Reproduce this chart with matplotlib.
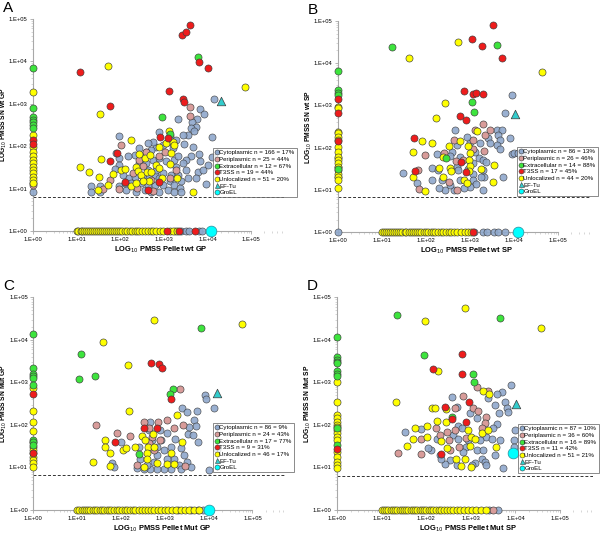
import numpy as np
import matplotlib
matplotlib.use('Agg')
from matplotlib import pyplot as plt
from matplotlib.lines import Line2D
from matplotlib.ticker import LogLocator, FuncFormatter, NullFormatter

plt.rcParams['font.family'] = ['Liberation Sans', 'DejaVu Sans']

# values are log10 PMSS (pellet, SN); *_COL = SN values with pellet 0,
# *_BASE = pellet values with SN 0 (drawn on the 1.E+00 lines)

# ---------------- A : wt GP ----------------
A_CYTO = [(4.14, 3.12), (3.84, 2.88), (3.93, 2.76), (3.76, 2.65), (3.65, 2.57), (3.74, 2.46), (3.32, 2.64),
          (3.63, 2.43), (3.70, 2.36), (3.55, 2.27), (3.44, 2.27), (4.11, 2.21), (2.90, 2.33), (3.13, 2.23),
          (3.28, 2.15), (3.47, 2.05), (3.66, 1.97), (3.63, 1.76), (3.51, 1.68), (3.21, 1.95), (3.09, 2.11),
          (2.98, 2.03), (2.82, 1.99), (2.75, 2.09), (2.63, 2.07), (2.71, 1.91), (2.60, 1.87), (2.44, 1.95),
          (2.33, 1.80), (2.18, 1.76), (1.97, 1.72), (1.98, 1.56), (1.87, 1.46), (2.06, 1.32), (2.21, 1.24),
          (2.33, 1.28), (2.52, 1.28), (2.67, 1.24), (2.79, 1.32), (2.90, 1.24), (2.98, 1.09), (3.13, 1.17),
          (3.24, 1.09), (3.36, 1.01), (3.40, 1.17), (3.55, 1.24), (3.51, 1.44), (3.44, 1.60), (3.28, 1.52),
          (3.24, 1.68), (3.05, 1.64), (3.32, 1.76), (3.78, 1.40), (3.74, 1.24), (3.97, 1.10), (3.82, 1.64),
          (1.34, 1.05), (1.34, 0.93), (1.54, 1.05), (1.54, 0.93), (1.98, 1.05), (2.14, 0.97), (2.37, 0.93),
          (2.56, 0.97), (2.71, 0.93), (2.90, 0.93), (3.09, 0.97), (3.24, 0.93), (3.40, 0.93), (2.63, 1.09),
          (2.48, 1.13), (2.25, 1.13), (2.10, 1.13), (2.79, 1.09), (2.44, 1.60), (2.60, 1.60), (2.75, 1.68),
          (2.90, 1.72), (2.63, 1.44), (2.82, 1.44), (2.98, 1.36), (3.17, 1.32), (3.32, 1.31), (3.80, 1.82),
          (4.01, 1.56), (4.10, 1.75), (3.90, 1.45), (1.97, 2.25), (1.90, 1.85)]
A_CYTO_COL = [0.93]
A_CYTO_BASE = [3.25, 3.40, 3.50, 3.58, 3.80, 3.88]
A_PERI = [(3.60, 2.92), (3.60, 2.72), (2.02, 2.02), (1.76, 1.20), (1.60, 0.98), (1.97, 0.98), (2.76, 0.94),
          (2.71, 1.20), (2.89, 1.76), (2.44, 1.68), (2.52, 1.54), (2.29, 1.36), (3.13, 1.24), (3.02, 1.87),
          (2.58, 1.86), (3.28, 1.45), (2.38, 1.02)]
A_PERI_COL = [1.14, 1.09]
A_PERI_BASE = []
A_EXTRA = [(3.79, 4.10), (2.96, 2.68), (3.15, 2.28)]
A_EXTRA_COL = [3.84, 2.91, 2.68, 2.62, 2.56, 2.50, 2.43]
A_EXTRA_BASE = []
A_T3SS = [(3.59, 4.85), (3.42, 4.63), (3.51, 4.69), (3.80, 3.98), (4.01, 3.84), (1.08, 3.74), (3.11, 3.31),
          (3.44, 3.11), (3.47, 3.04), (1.77, 2.95), (2.92, 2.22), (3.09, 2.20), (1.92, 1.83), (1.76, 1.64),
          (2.12, 1.16), (2.63, 0.96), (2.89, 1.15)]
A_T3SS_COL = [2.15, 2.05]
A_T3SS_BASE = [3.07, 3.35, 3.72]
A_UNLOC = [(1.72, 3.88), (1.53, 2.76), (4.85, 3.39), (2.24, 2.15), (1.08, 1.52), (1.28, 1.39), (1.51, 1.28),
           (1.56, 1.69), (1.72, 1.09), (1.83, 1.35), (2.02, 1.44), (2.10, 1.46), (2.25, 1.05), (2.37, 1.52),
           (2.44, 1.81), (2.56, 1.72), (2.69, 1.80), (2.40, 1.42), (2.48, 1.32), (2.61, 1.39), (2.66, 1.18),
           (2.52, 1.18), (2.71, 1.39), (2.82, 1.56), (2.89, 1.99), (2.90, 1.48), (2.96, 1.26), (3.05, 2.07),
           (3.11, 2.37), (3.21, 2.11), (3.24, 2.03), (3.17, 1.83), (3.13, 1.57), (3.30, 1.24), (3.66, 0.93),
           (2.35, 1.13), (1.49, 0.97)]
A_UNLOC_COL = [3.28, 2.27, 1.99, 1.87, 1.76, 1.68, 1.60, 1.52, 1.44, 1.36, 1.28, 1.20, 1.13]
A_UNLOC_BASE = [1.00, 1.04, 1.09, 1.13, 1.18, 1.22, 1.27, 1.31, 1.36, 1.40, 1.45, 1.49, 1.54, 1.58, 1.63,
                1.67, 1.72, 1.76, 1.81, 1.86, 1.90, 1.95, 2.00, 2.05, 2.10, 2.16, 2.22, 2.27, 2.33, 2.38,
                2.44, 2.50, 2.57, 2.63, 2.70, 2.76, 2.83, 2.92, 2.98, 3.15, 3.22, 3.30]
A_EFTU = (4.31, 3.07)
A_GROEL = (4.08, 0.0)

# ---------------- B : wt SP ----------------
B_CYTO = [(3.95, 3.24), (3.80, 2.83), (2.67, 2.43), (3.61, 2.42), (3.73, 2.42), (3.65, 2.30), (3.69, 2.18),
          (3.61, 2.06), (3.69, 1.98), (3.92, 2.22), (3.95, 1.85), (4.01, 1.87), (3.42, 2.22), (3.46, 2.10),
          (3.23, 2.10), (3.01, 2.14), (2.93, 2.26), (2.70, 2.06), (2.59, 1.91), (2.25, 1.85), (2.55, 1.80),
          (2.78, 1.79), (3.12, 1.91), (3.20, 1.75), (3.31, 1.71), (3.37, 1.67), (3.08, 1.63), (2.70, 1.55),
          (2.14, 1.51), (2.27, 1.47), (2.74, 1.47), (3.08, 1.39), (3.31, 1.47), (3.33, 1.31), (3.08, 1.24),
          (3.14, 1.14), (3.01, 1.08), (2.86, 1.04), (2.63, 1.00), (2.44, 1.00), (2.29, 1.04), (2.14, 1.24),
          (2.36, 1.24), (1.49, 1.41), (1.80, 1.16), (3.30, 1.00), (3.75, 1.31), (2.55, 1.12), (2.78, 1.24),
          (4.09, 1.87), (4.18, 1.87), (3.25, 1.30), (2.95, 1.50)]
B_CYTO_COL = [0.0, 1.75, 1.55, 1.30]
B_CYTO_BASE = [3.10, 3.30, 3.40, 3.55, 3.65, 3.80]
B_PERI = [(3.29, 2.57), (3.11, 2.42), (3.35, 2.30), (2.65, 2.18), (1.98, 1.83), (3.08, 1.98), (3.33, 1.92),
          (2.69, 1.69), (2.84, 1.71), (1.83, 1.47), (2.52, 1.20), (2.70, 1.00), (1.85, 1.02), (3.08, 2.18),
          (3.45, 2.42), (2.42, 1.88)]
B_PERI_COL = []
B_PERI_BASE = []
B_EXTRA = [(1.24, 4.37), (3.61, 4.43), (3.05, 3.09), (3.10, 2.85), (2.45, 1.75)]
B_EXTRA_COL = [3.82, 3.36, 3.30, 3.25, 1.50]
B_EXTRA_BASE = []
B_T3SS = [(3.52, 4.91), (3.05, 4.56), (3.27, 4.40), (3.73, 4.13), (2.86, 3.35), (3.07, 3.27), (3.14, 3.30),
          (3.31, 3.27), (2.77, 2.75), (2.92, 2.65), (1.73, 2.24), (1.76, 1.46), (2.80, 1.67), (2.91, 1.43)]
B_T3SS_COL = [3.15, 2.83, 2.16]
B_T3SS_BASE = [3.08]
B_UNLOC = [(2.73, 4.50), (1.61, 4.13), (4.64, 3.80), (2.44, 3.06), (2.23, 2.70), (1.91, 2.16), (2.14, 2.12),
           (1.70, 1.91), (2.52, 2.04), (2.78, 2.16), (3.17, 2.40), (2.95, 2.04), (3.01, 1.88), (2.99, 1.72),
           (2.39, 1.77), (2.31, 1.51), (2.55, 1.53), (2.57, 1.46), (3.01, 1.57), (2.99, 1.46), (3.25, 1.49),
           (3.54, 1.59), (3.52, 1.18), (2.39, 1.31), (1.70, 1.31), (1.98, 0.98), (2.86, 1.24), (2.93, 1.17)]
B_UNLOC_COL = [2.97, 2.93, 2.38, 2.34, 2.26, 2.18, 2.02, 1.91, 1.79, 1.71, 1.63, 1.55, 1.47, 1.39, 1.31,
               1.24, 1.04]
B_UNLOC_BASE = [1.00, 1.05, 1.09, 1.14, 1.19, 1.23, 1.28, 1.33, 1.37, 1.42, 1.47, 1.52, 1.56, 1.61, 1.66,
                1.71, 1.75, 1.80, 1.85, 1.90, 1.95, 2.00, 2.06, 2.11, 2.17, 2.22, 2.28, 2.34, 2.40, 2.46,
                2.52, 2.58, 2.65, 2.72, 2.80, 2.88, 2.96, 3.02]
B_EFTU = (4.03, 2.80)
B_GROEL = (4.09, 0.0)

# ---------------- C : Mut GP ----------------
C_CYTO = [(3.91, 2.70), (3.95, 2.60), (4.12, 2.39), (3.40, 2.41), (3.51, 2.31), (3.74, 2.33), (3.66, 2.12),
          (3.70, 1.97), (3.53, 1.78), (3.65, 1.76), (2.66, 2.06), (2.63, 1.88), (2.90, 1.88), (3.05, 1.80),
          (3.24, 1.66), (3.36, 1.45), (2.92, 1.65), (2.82, 1.49), (2.98, 1.41), (3.13, 1.49), (3.44, 1.29),
          (2.01, 1.61), (2.40, 1.47), (2.71, 1.65), (2.81, 1.29), (4.18, 1.43), (4.01, 0.94), (3.51, 1.14),
          (3.32, 1.06), (3.36, 0.96), (3.13, 0.96), (2.98, 0.96), (2.82, 0.96), (2.67, 0.96), (2.52, 0.96),
          (2.37, 0.98), (1.79, 1.10), (1.85, 1.00), (3.59, 1.02), (3.21, 1.21), (2.75, 1.14), (2.60, 1.06),
          (3.05, 1.21), (2.44, 1.21), (3.75, 1.60), (3.55, 1.95)]
C_CYTO_COL = []
C_CYTO_BASE = [3.30, 3.60, 3.75, 3.88]
C_PERI = [(3.34, 2.84), (1.44, 2.01), (1.91, 1.80), (2.21, 1.74), (2.52, 2.08), (2.65, 1.92), (2.85, 2.08),
          (3.05, 2.11), (3.21, 1.92), (3.42, 2.00), (2.71, 1.72), (2.90, 1.65), (2.63, 1.57), (2.75, 1.41),
          (2.37, 1.06), (3.46, 1.04)]
C_PERI_COL = []
C_PERI_BASE = []
C_EXTRA = [(3.82, 4.29), (1.09, 3.66), (1.40, 3.15), (1.05, 3.09), (3.19, 2.84), (3.11, 2.73), (2.40, 1.31)]
C_EXTRA_COL = [4.13, 3.33, 3.21, 3.15, 3.10, 2.95, 1.65, 1.61, 1.53]
C_EXTRA_BASE = []
C_T3SS = [(2.69, 3.46), (2.86, 3.43), (2.94, 3.35), (3.13, 2.62), (2.52, 1.94), (2.82, 1.94), (1.87, 1.61)]
C_T3SS_COL = [2.72, 1.35]
C_T3SS_BASE = []
C_UNLOC = [(2.76, 4.47), (4.77, 4.37), (1.58, 3.94), (2.15, 3.41), (2.18, 2.34), (3.28, 2.23), (1.64, 1.65),
           (1.63, 1.49), (1.76, 1.35), (2.04, 1.41), (2.12, 1.45), (2.31, 1.49), (2.48, 1.74), (2.54, 1.65),
           (2.73, 1.79), (2.61, 1.49), (2.75, 1.49), (2.60, 1.35), (3.13, 1.35), (3.40, 1.61), (1.36, 1.12),
           (1.76, 1.03), (2.60, 1.20), (2.52, 1.02), (3.05, 1.08), (3.21, 1.08), (2.82, 1.10)]
C_UNLOC_COL = [2.88, 2.33, 2.08, 1.86, 1.61, 1.49, 1.41, 1.33, 1.25, 1.18, 1.10, 1.02]
C_UNLOC_BASE = [1.00, 1.05, 1.10, 1.15, 1.20, 1.25, 1.30, 1.35, 1.40, 1.46, 1.51, 1.56, 1.62, 1.67, 1.73,
                1.78, 1.84, 1.90, 1.96, 2.02, 2.08, 2.14, 2.20, 2.27, 2.33, 2.40, 2.47, 2.54, 2.61, 2.68,
                2.76, 2.84, 2.92, 3.00, 3.08, 3.17, 3.26, 3.36, 3.46, 3.56, 3.66, 3.78]
C_EFTU = (4.18, 2.76)
C_GROEL = (4.01, 0.0)

# ---------------- D : Mut SP ----------------
D_CYTO = [(3.89, 2.95), (3.69, 2.78), (3.58, 2.74), (3.39, 2.63), (3.77, 2.55), (3.54, 2.47), (3.80, 2.39),
          (3.64, 2.29), (2.57, 2.65), (2.68, 2.43), (2.98, 2.29), (3.13, 2.16), (3.58, 2.02), (3.50, 1.92),
          (3.35, 1.72), (3.47, 1.68), (3.65, 1.65), (3.97, 1.65), (3.97, 1.49), (2.72, 1.97), (2.79, 1.92),
          (2.60, 1.76), (2.72, 1.68), (2.94, 1.65), (3.13, 1.41), (3.24, 1.21), (3.32, 1.14), (3.09, 1.10),
          (2.53, 1.18), (2.42, 1.08), (2.31, 1.29), (2.10, 1.41), (2.23, 1.68), (1.53, 1.84), (1.88, 1.90),
          (2.04, 1.45), (2.32, 1.21), (2.90, 1.49), (3.20, 1.65), (3.28, 1.41), (3.54, 1.29), (3.73, 0.98),
          (3.99, 1.88), (3.84, 2.31), (2.83, 1.37), (3.02, 1.06), (2.68, 1.06), (3.35, 1.06)]
D_CYTO_COL = []
D_CYTO_BASE = [3.40, 3.62]
D_PERI = [(3.13, 2.90), (2.83, 2.68), (3.05, 2.39), (3.17, 2.33), (2.64, 2.41), (3.34, 2.18), (3.32, 2.05),
          (3.24, 1.94), (2.22, 1.94), (2.47, 1.84), (2.64, 1.88), (2.51, 1.65), (2.74, 1.49), (2.53, 1.41),
          (1.88, 1.68), (1.88, 1.32), (1.37, 1.35), (3.39, 2.80), (2.90, 1.70), (2.30, 1.76)]
D_PERI_COL = []
D_PERI_BASE = [3.50]
D_EXTRA = [(1.35, 4.58), (3.65, 4.51), (1.95, 3.64), (3.04, 3.21), (3.08, 3.00), (2.57, 2.19)]
D_EXTRA_COL = [4.07, 3.59, 3.53, 3.49, 3.45, 3.28, 3.21, 3.15, 1.94, 1.53]
D_EXTRA_BASE = []
D_T3SS = [(2.81, 3.66), (2.16, 3.31), (2.81, 3.21), (2.96, 2.55), (2.42, 2.43), (2.57, 2.14), (2.90, 2.08),
          (2.33, 1.31)]
D_T3SS_COL = [1.43]
D_T3SS_BASE = []
D_UNLOC = [(2.87, 4.76), (1.97, 4.44), (4.57, 4.29), (2.27, 3.28), (1.32, 2.54), (2.12, 2.39), (2.19, 2.39),
           (2.44, 2.37), (2.23, 2.09), (2.44, 2.08), (1.74, 1.92), (2.01, 1.97), (1.71, 1.67), (2.02, 1.71),
           (1.57, 1.50), (2.33, 1.63), (2.47, 1.45), (2.94, 1.88), (3.00, 1.72), (3.09, 1.66), (2.98, 1.50),
           (3.24, 1.80), (3.39, 1.87), (3.56, 1.47), (2.66, 1.19), (2.77, 1.04), (2.87, 1.19), (3.00, 1.02),
           (3.28, 2.81), (3.41, 2.74)]
D_UNLOC_COL = [3.02, 2.55, 2.23, 2.16, 2.08, 2.01, 1.96, 1.88, 1.80, 1.72, 1.65, 1.37, 1.25, 1.14, 1.06, 0.98]
D_UNLOC_BASE = [1.00, 1.05, 1.10, 1.15, 1.20, 1.25, 1.30, 1.35, 1.40, 1.45, 1.50, 1.55, 1.60, 1.65, 1.70,
                1.75, 1.80, 1.85, 1.90, 1.95, 2.00, 2.05, 2.10, 2.16, 2.22, 2.28, 2.34, 2.40, 2.47, 2.54,
                2.61, 2.68, 2.76, 2.84, 2.93, 3.02, 3.12, 3.22, 3.33]
D_EFTU = (4.01, 2.49)
D_GROEL = (3.94, 1.33)

LEGEND_A = ["Cytoplasmic n = 166 = 17%", "Periplasmic n = 25 = 44%", "Extracellular n = 12 = 67%",
            "T3SS n = 19 = 44%", "Unlocalized n = 51 = 20%", "EF-Tu", "GroEL"]
LEGEND_B = ["Cytoplasmic n = 86 = 13%", "Periplasmic n = 26 = 46%", "Extracellular n = 14 = 88%",
            "T3SS n = 17 = 45%", "Unlocalized n = 44 = 20%", "EF-Tu", "GroEL"]
LEGEND_C = ["Cytoplasmic n = 86 = 9%", "Periplasmic n = 24 = 43%", "Extracellular n = 17 = 77%",
            "T3SS n = 9 = 31%", "Unlocalized n = 46 = 17%", "EF-Tu", "GroEL"]
LEGEND_D = ["Cytoplasmic n = 87 = 10%", "Periplasmic n = 36 = 60%", "Extracellular n = 16 = 89%",
            "T3SS n = 11 = 42%", "Unlocalized n = 51 = 21%", "EF-Tu", "GroEL"]

COLORS = {'cyto': '#8fa8cc', 'peri': '#d89c9a', 'extra': '#3de43d', 't3ss': '#ee1c1c',
          'unloc': '#ffff00', 'eftu': '#33cccc', 'groel': '#00ffff'}
EDGE = '#3c3c3c'


def points(pairs, col, base):
    px = [p[0] for p in pairs] + [0.0] * len(col) + list(base)
    py = [p[1] for p in pairs] + list(col) + [0.0] * len(base)
    return 10.0 ** np.array(px), 10.0 ** np.array(py)


def tick_fmt(v, pos):
    return "1.E+%02d" % int(round(np.log10(v)))


def draw_panel(fig, rect, letter, data, eftu, groel, legend_labels, xlab, ylab, leg_xy, cutoff):
    ax = fig.add_axes(rect)
    ax.set_xscale('log')
    ax.set_yscale('log')

    order = ['cyto', 'peri', 'unloc', 'extra', 't3ss']
    for key in order:
        pairs, col, base = data[key]
        x, y = points(pairs, col, base)
        ax.scatter(x, y, s=26, c=COLORS[key], edgecolors=EDGE, linewidths=0.45,
                   alpha=0.9 if key == 'cyto' else 1.0, zorder=3, clip_on=False)
    ax.scatter([10 ** eftu[0]], [10 ** eftu[1]], s=38, marker='^', c=COLORS['eftu'],
               edgecolors=EDGE, linewidths=0.5, zorder=4, clip_on=False)
    ax.scatter([10 ** groel[0]], [10 ** groel[1]], s=60, c=COLORS['groel'],
               edgecolors='#2a8a9a', linewidths=0.5, zorder=4, clip_on=False)

    ax.axhline(10 ** cutoff, color='#333333', lw=0.7, ls=(0, (3, 2)), zorder=2)

    for s in ['top', 'right']:
        ax.spines[s].set_visible(False)
    for s in ['left', 'bottom']:
        ax.spines[s].set_color('#a8a8a8')
        ax.spines[s].set_linewidth(0.8)
    ax.spines['bottom'].set_bounds(1, 1e5)

    ax.set_xticks([1, 10, 100, 1e3, 1e4, 1e5])
    ax.set_yticks([1, 10, 100, 1e3, 1e4, 1e5])
    ax.xaxis.set_major_formatter(FuncFormatter(tick_fmt))
    ax.yaxis.set_major_formatter(FuncFormatter(tick_fmt))
    ax.xaxis.set_minor_locator(LogLocator(base=10, subs=np.arange(2, 10), numticks=10))
    ax.yaxis.set_minor_locator(LogLocator(base=10, subs=np.arange(2, 10), numticks=10))
    ax.xaxis.set_minor_formatter(NullFormatter())
    ax.yaxis.set_minor_formatter(NullFormatter())
    ax.tick_params(which='major', length=2.5, width=0.6, color='#a8a8a8', labelsize=4.2, pad=1.5)
    ax.tick_params(which='minor', length=1.3, width=0.4, color='#b8b8b8')
    ax.set_xlim(1, 10 ** 5.75)
    ax.set_ylim(1, 1e5)

    ax.set_xlabel(xlab, fontsize=5.4, fontweight='bold')
    ax.set_ylabel(ylab, fontsize=4.8, fontweight='bold')
    ax.xaxis.set_label_coords(0.51, -0.065)
    ax.yaxis.set_label_coords(-0.096, 0.5)

    mk = dict(markeredgecolor=EDGE, markeredgewidth=0.4, markersize=3.6, linestyle='none')
    handles = [Line2D([], [], marker='o', markerfacecolor=COLORS['cyto'], **mk),
               Line2D([], [], marker='o', markerfacecolor=COLORS['peri'], **mk),
               Line2D([], [], marker='o', markerfacecolor=COLORS['extra'], **mk),
               Line2D([], [], marker='o', markerfacecolor=COLORS['t3ss'], **mk),
               Line2D([], [], marker='o', markerfacecolor=COLORS['unloc'], **mk),
               Line2D([], [], marker='^', markerfacecolor=COLORS['eftu'], **mk),
               Line2D([], [], marker='o', markerfacecolor=COLORS['groel'], **mk)]
    leg = ax.legend(handles, legend_labels, loc='upper left', bbox_to_anchor=leg_xy,
                    bbox_transform=fig.transFigure, handlelength=0.5,
                    handletextpad=0.2, labelspacing=0.22, borderpad=0.35, borderaxespad=0,
                    frameon=True, fancybox=False, prop={'size': 4.4})
    leg.get_frame().set_edgecolor('#555555')
    leg.get_frame().set_linewidth(0.6)
    leg.set_zorder(6)

    fig.text(rect[0] - 0.05, rect[1] + rect[3] + 0.034, letter, fontsize=11, va='top', ha='left')
    return ax


fig = plt.figure(figsize=(6.0, 5.34), dpi=100)

panels = [
    ([0.055, 0.5674, 0.418, 0.397], 'A',
     {'cyto': (A_CYTO, A_CYTO_COL, A_CYTO_BASE), 'peri': (A_PERI, A_PERI_COL, A_PERI_BASE),
      'extra': (A_EXTRA, A_EXTRA_COL, A_EXTRA_BASE), 't3ss': (A_T3SS, A_T3SS_COL, A_T3SS_BASE),
      'unloc': (A_UNLOC, A_UNLOC_COL, A_UNLOC_BASE)},
     A_EFTU, A_GROEL, LEGEND_A, "LOG$_{10}$ PMSS Pellet wt GP", "LOG$_{10}$ PMSS SN wt GP",
     (213 / 600, 1 - 148 / 534), 0.81),
    ([0.563, 0.565, 0.4217, 0.396], 'B',
     {'cyto': (B_CYTO, B_CYTO_COL, B_CYTO_BASE), 'peri': (B_PERI, B_PERI_COL, B_PERI_BASE),
      'extra': (B_EXTRA, B_EXTRA_COL, B_EXTRA_BASE), 't3ss': (B_T3SS, B_T3SS_COL, B_T3SS_BASE),
      'unloc': (B_UNLOC, B_UNLOC_COL, B_UNLOC_BASE)},
     B_EFTU, B_GROEL, LEGEND_B, "LOG$_{10}$ PMSS Pellet wt SP", "LOG$_{10}$ PMSS SN wt SP",
     (517 / 600, 1 - 147 / 534), 0.83),
    ([0.0556, 0.045, 0.42, 0.398], 'C',
     {'cyto': (C_CYTO, C_CYTO_COL, C_CYTO_BASE), 'peri': (C_PERI, C_PERI_COL, C_PERI_BASE),
      'extra': (C_EXTRA, C_EXTRA_COL, C_EXTRA_BASE), 't3ss': (C_T3SS, C_T3SS_COL, C_T3SS_BASE),
      'unloc': (C_UNLOC, C_UNLOC_COL, C_UNLOC_BASE)},
     C_EFTU, C_GROEL, LEGEND_C, "LOG$_{10}$ PMSS Pellet Mut GP", "LOG$_{10}$ PMSS SN Mut GP",
     (213 / 600, 1 - 423 / 534), 0.82),
    ([0.562, 0.045, 0.427, 0.398], 'D',
     {'cyto': (D_CYTO, D_CYTO_COL, D_CYTO_BASE), 'peri': (D_PERI, D_PERI_COL, D_PERI_BASE),
      'extra': (D_EXTRA, D_EXTRA_COL, D_EXTRA_BASE), 't3ss': (D_T3SS, D_T3SS_COL, D_T3SS_BASE),
      'unloc': (D_UNLOC, D_UNLOC_COL, D_UNLOC_BASE)},
     D_EFTU, D_GROEL, LEGEND_D, "LOG$_{10}$ PMSS Pellet Mut SP", "LOG$_{10}$ PMSS SN Mut SP",
     (518 / 600, 1 - 424 / 534), 0.81),
]

for rect, letter, data, eftu, groel, labels, xl, yl, leg_xy, cut in panels:
    draw_panel(fig, rect, letter, data, eftu, groel, labels, xl, yl, leg_xy, cut)

fig.savefig("out.png", dpi=100)
